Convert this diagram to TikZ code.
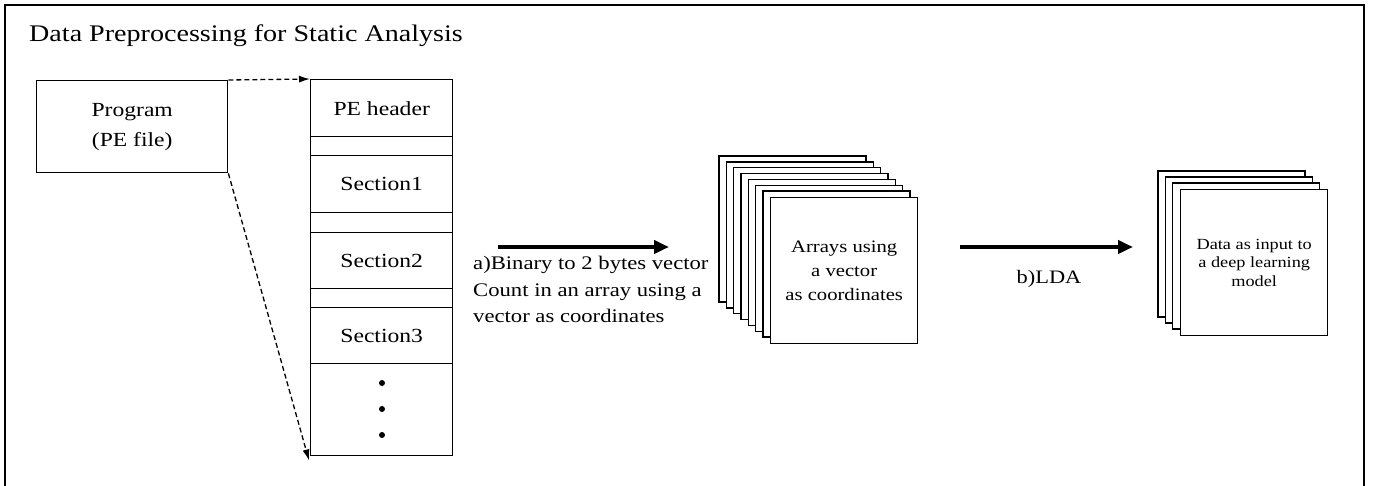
\documentclass[tikz,border=0pt]{standalone}
\usepackage{fontspec}
\setmainfont{Liberation Serif}[FakeStretch=1.18]
\usetikzlibrary{arrows.meta}
\tikzset{
  frameline/.style={line width=2pt},
  cell/.style={draw, line width=1.4pt, rectangle, anchor=north west, inner sep=0pt, minimum width=142pt, font=\fontsize{20}{22}\selectfont},
  sheet/.style={draw, fill=white, line width=1.4pt},
  frontsheet/.style={draw, fill=white, line width=1.4pt, rectangle, anchor=north west, inner sep=0pt, minimum width=147pt, minimum height=146pt, align=center},
  bigarrow/.style={line width=4pt, -{Triangle[length=15pt,width=13pt]}},
  dasharrow/.style={line width=1.3pt, dash pattern=on 5pt off 3pt, -{Latex[length=11pt,width=7pt]}},
  dotmark/.style={fill=black, circle, inner sep=0pt, minimum size=6pt},
  lbl/.style={inner sep=0pt}
}
\begin{document}
\begin{tikzpicture}[x=1pt,y=-1pt]
\useasboundingbox (0,0) rectangle (1373,486);
% outer frame (open at bottom)
\draw[frameline] (5,492) -- (5,5) -- (1364,5) -- (1364,492);
% title
\node[lbl, anchor=base west, font=\fontsize{23.8}{28}\selectfont] (title) at (29,42) {Data Preprocessing for Static Analysis};
% program box
\node[draw, line width=1.4pt, rectangle, anchor=north west, inner sep=0pt, minimum width=191pt, minimum height=92pt, align=center, font=\fontsize{20}{30}\selectfont] (prog) at (36,80) {Program\\(PE file)};
% PE structure
\node[cell, minimum height=57pt] (hdr) at (310,79) {PE header};
\node[cell, minimum height=19pt] (g1) at (310,136) {};
\node[cell, minimum height=57pt] (s1) at (310,155) {Section1};
\node[cell, minimum height=20pt] (g2) at (310,212) {};
\node[cell, minimum height=56pt] (s2) at (310,232) {Section2};
\node[cell, minimum height=19pt] (g3) at (310,288) {};
\node[cell, minimum height=56pt] (s3) at (310,307) {Section3};
\node[cell, minimum height=92pt] (rest) at (310,363) {};
\node[dotmark] (d1) at (382,383) {};
\node[dotmark] (d2) at (382,409) {};
\node[dotmark] (d3) at (382,435) {};
% dashed arrows
\draw[dasharrow] (prog.north east) -- (hdr.north west);
\coordinate (restend) at ([xshift=-1pt,yshift=-4pt]rest.south west);
\draw[dasharrow] (prog.south east) -- (restend);
% arrow a
\coordinate (a1) at (498,247);
\coordinate (a2) at (669,247);
\draw[bigarrow] (a1) -- (a2);
\node[lbl, anchor=north west, align=left, font=\fontsize{19.2}{26.5}\selectfont] (lbla) at (473,256) {a)Binary to 2 bytes vector\\Count in an array using a\\vector as coordinates};
% stack 1
\foreach \i in {0,...,6} {
  \draw[sheet] ({719+7.3*\i},{156+5.86*\i}) rectangle ++(147,146);
}
\node[frontsheet, font=\fontsize{17.5}{24}\selectfont] (arr) at (770,197) {Arrays using\\a vector\\as coordinates};
% arrow b
\coordinate (b1) at (960,247);
\coordinate (b2) at (1133,247);
\draw[bigarrow] (b1) -- (b2);
\node[lbl, font=\fontsize{19}{22}\selectfont] (lblb) at (1049,279) {b)LDA};
% stack 2
\foreach \i in {0,...,2} {
  \draw[sheet] ({1158+7.3*\i},{171+6*\i}) rectangle ++(147,146);
}
\node[frontsheet, font=\fontsize{15.5}{18.5}\selectfont] (dat) at (1180,189) {Data as input to\\a deep learning\\model};
\end{tikzpicture}
\end{document}
